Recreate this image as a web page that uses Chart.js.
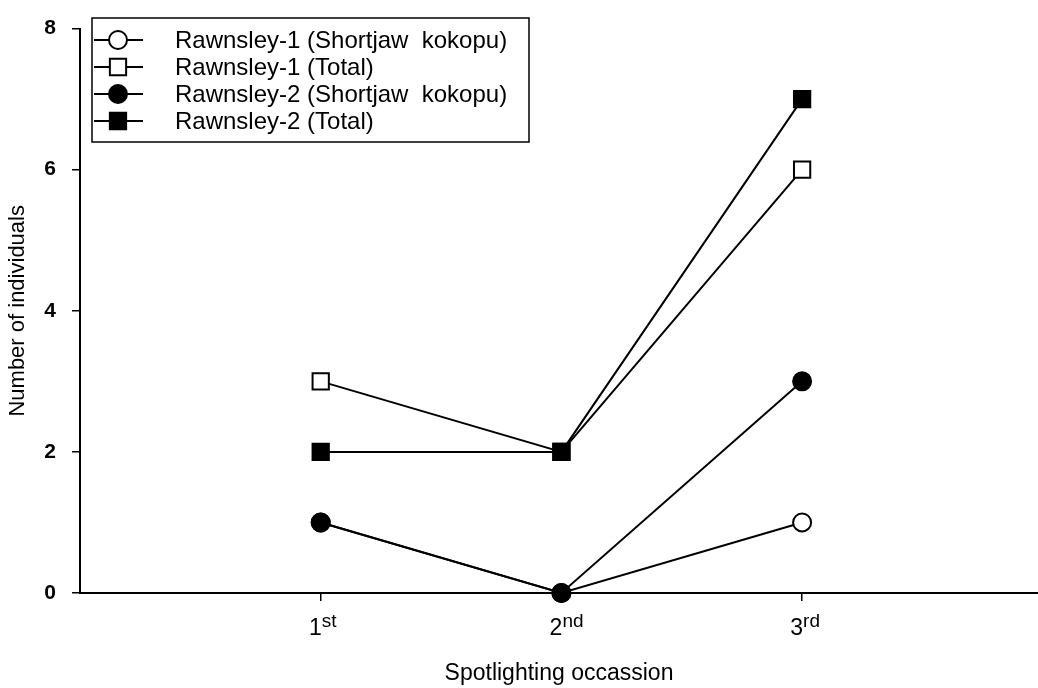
<!DOCTYPE html>
<html>
<head>
<meta charset="utf-8">
<script src="https://cdn.jsdelivr.net/npm/chart.js@4"></script>
<style>
  html, body { margin: 0; padding: 0; background: #fff; }
  #wrap { width: 1038px; height: 688px; }
</style>
</head>
<body>
<div id="wrap"><canvas id="chart" width="1038" height="688"></canvas></div>
<script>
// Spotlighting counts per occasion
const occasions = [1, 2, 3];
const occasionNums = ["1", "2", "3"];
const occasionSups = ["st", "nd", "rd"];

const seriesNames = [
  "Rawnsley-1 (Shortjaw  kokopu)",
  "Rawnsley-1 (Total)",
  "Rawnsley-2 (Shortjaw  kokopu)",
  "Rawnsley-2 (Total)"
];
const r1Shortjaw = [1, 0, 1];
const r1Total = [3, 2, 6];
const r2Shortjaw = [1, 0, 3];
const r2Total = [2, 2, 7];

const yTicks = [0, 2, 4, 6, 8];

const FONT = '"Liberation Sans", Arial, Helvetica, sans-serif';

function toPoints(values) {
  return values.map((v, i) => ({ x: occasions[i], y: v }));
}

function makeSeries(label, values, style, filled, order) {
  return {
    label,
    data: toPoints(values),
    borderColor: "#000",
    borderWidth: 2,
    pointStyle: style,
    pointRadius: style === "rect" ? 11.5 : 9,
    pointHoverRadius: style === "rect" ? 11.5 : 9,
    pointBackgroundColor: filled ? "#000" : "#fff",
    pointBorderColor: "#000",
    pointBorderWidth: 2,
    tension: 0,
    fill: false,
    clip: false,
    order
  };
}

// x tick labels with superscript suffix (1st, 2nd, 3rd)
const superTicks = {
  id: "superTicks",
  afterDraw(chart) {
    const ctx = chart.ctx;
    const xs = chart.scales.x;
    ctx.save();
    ctx.fillStyle = "#000";
    ctx.textBaseline = "alphabetic";
    occasions.forEach((v, i) => {
      const px = xs.getPixelForValue(v) + 1;
      ctx.font = "23px " + FONT;
      ctx.textAlign = "right";
      ctx.fillText(occasionNums[i], px, 635);
      ctx.font = "19px " + FONT;
      ctx.textAlign = "left";
      ctx.fillText(occasionSups[i], px, 627);
    });
    ctx.restore();
  }
};

// boxed legend with line + marker symbols, top-left inside the plot
const boxLegend = {
  id: "boxLegend",
  afterDraw(chart) {
    const ctx = chart.ctx;
    const box = { left: 92, top: 18, right: 529, bottom: 142 };
    const rowY = [40, 67, 94, 121];
    ctx.save();
    ctx.fillStyle = "#fff";
    ctx.fillRect(box.left, box.top, box.right - box.left, box.bottom - box.top);
    ctx.strokeStyle = "#000";
    ctx.lineWidth = 1.5;
    ctx.strokeRect(box.left, box.top, box.right - box.left, box.bottom - box.top);

    chart.data.datasets.forEach((ds, i) => {
      const y = rowY[i];
      ctx.strokeStyle = "#000";
      ctx.lineWidth = 2;
      ctx.beginPath();
      ctx.moveTo(94, y);
      ctx.lineTo(143, y);
      ctx.stroke();

      ctx.fillStyle = ds.pointBackgroundColor;
      ctx.strokeStyle = ds.pointBorderColor;
      ctx.lineWidth = ds.pointBorderWidth;
      Chart.helpers.drawPoint(ctx, {
        pointStyle: ds.pointStyle,
        radius: ds.pointRadius,
        rotation: 0,
        borderWidth: ds.pointBorderWidth
      }, 118, y);

      ctx.fillStyle = "#000";
      ctx.font = "24px " + FONT;
      ctx.textAlign = "left";
      ctx.textBaseline = "middle";
      ctx.fillText(ds.label, 175, y + 1);
    });
    ctx.restore();
  }
};

const ctx = document.getElementById("chart");

new Chart(ctx, {
  type: "line",
  data: {
    datasets: [
      makeSeries(seriesNames[0], r1Shortjaw, "circle", false, 3),
      makeSeries(seriesNames[1], r1Total, "rect", false, 4),
      makeSeries(seriesNames[2], r2Shortjaw, "circle", true, 1),
      makeSeries(seriesNames[3], r2Total, "rect", true, 2)
    ]
  },
  options: {
    responsive: false,
    animation: false,
    layout: { autoPadding: false, padding: { top: 18, right: 0, bottom: 0, left: 0 } },
    plugins: {
      legend: { display: false },
      tooltip: { enabled: false },
      title: { display: false }
    },
    scales: {
      x: {
        type: "linear",
        min: 0,
        max: 3.98,
        afterBuildTicks(scale) {
          scale.ticks = occasions.map(v => ({ value: v }));
        },
        afterFit(scale) {
          scale.height = 95;
        },
        grid: {
          drawOnChartArea: false,
          drawTicks: true,
          tickLength: 8,
          color: "#000",
          lineWidth: 1.5
        },
        border: { display: true, color: "#000", width: 2 },
        ticks: { display: false },
        title: {
          display: true,
          text: "Spotlighting occassion",
          color: "#000",
          font: { family: FONT, size: 23 },
          padding: { top: 0, bottom: 1 }
        }
      },
      y: {
        min: 0,
        max: 8,
        afterBuildTicks(scale) {
          scale.ticks = yTicks.map(v => ({ value: v }));
        },
        afterFit(scale) {
          scale.width = 80;
        },
        grid: {
          drawOnChartArea: false,
          drawTicks: true,
          tickLength: 8,
          color: "#000",
          lineWidth: 1.5
        },
        border: { display: true, color: "#000", width: 2 },
        ticks: {
          color: "#000",
          padding: 16,
          font: { family: FONT, size: 21, weight: "bold" }
        },
        title: {
          display: true,
          text: "Number of individuals",
          color: "#000",
          font: { family: FONT, size: 22 },
          padding: { top: 5, bottom: 0 }
        }
      }
    }
  },
  plugins: [superTicks, boxLegend]
});
</script>
</body>
</html>
